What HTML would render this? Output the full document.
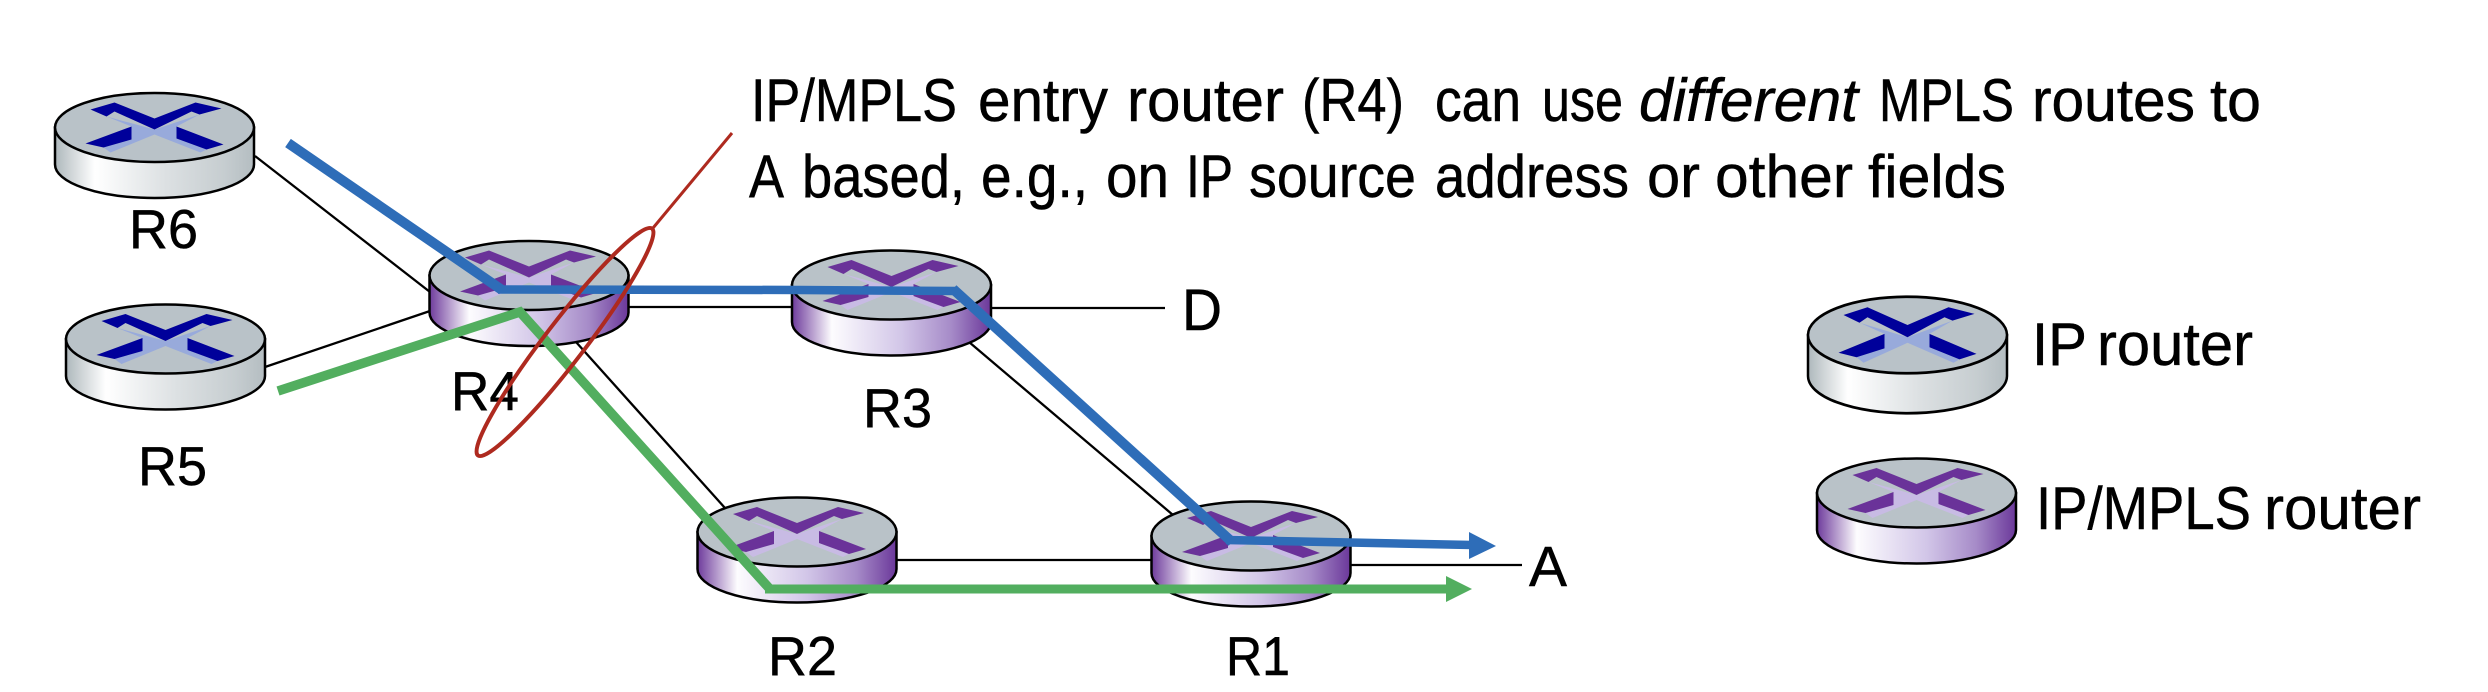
<!DOCTYPE html>
<html><head><meta charset="utf-8"><style>
html,body{margin:0;padding:0;background:#fff}
svg{display:block}
text{font-family:"Liberation Sans",sans-serif;fill:#000;stroke:#000;stroke-width:.5px}
.l{font-size:55px}
.m{font-size:60px}
</style></head><body>
<svg width="2488" height="692" viewBox="0 0 2488 692" xmlns="http://www.w3.org/2000/svg">
<defs>
<linearGradient id="gi" x1="0" x2="1" y1="0" y2="0">
<stop offset="0" stop-color="#aeb8bc"/><stop offset=".2" stop-color="#fff"/><stop offset=".55" stop-color="#dde1e3"/><stop offset=".85" stop-color="#c6cdd0"/><stop offset="1" stop-color="#b4bdc1"/>
</linearGradient>
<linearGradient id="gm" x1="0" x2="1" y1="0" y2="0">
<stop offset="0" stop-color="#6e3b9c"/><stop offset=".2" stop-color="#fdfcfe"/><stop offset=".55" stop-color="#d2c6e8"/><stop offset=".8" stop-color="#a68bc8"/><stop offset="1" stop-color="#6b389a"/>
</linearGradient>
<g id="ip">
<path d="M-99.500,0V37A99.500,33.500 0 0 0 99.500,37V0Z" fill="url(#gi)" stroke="#000" stroke-width="2.500"/>
<ellipse cx="0" cy="0" rx="99.500" ry="34.500" fill="#b9c2c8" stroke="#000" stroke-width="2.500"/>
<path d="M-48,-11L0,2L45,-13L22,-1V11L52,22L46,25L0,7L-44,25L-51,20L-23,12V-1Z" fill="#98aadb"/>
<path d="M-64,-18L-40,-25L0,-9L41,-25L67,-19L45,-13L37,-16L0,2L-40,-16L-48,-11Z" fill="#00009a"/>
<path d="M-69,16L-23,-1V12L-51,20Z" fill="#00009a"/>
<path d="M22,-1L69,17L52,22L22,11Z" fill="#00009a"/>
</g>
<g id="mp">
<path d="M-99.500,0V37A99.500,33.500 0 0 0 99.500,37V0Z" fill="url(#gm)" stroke="#000" stroke-width="2.500"/>
<ellipse cx="0" cy="0" rx="99.500" ry="34.500" fill="#b9c2c8" stroke="#000" stroke-width="2.500"/>
<path d="M-48,-11L0,2L45,-13L22,-1V11L52,22L46,25L0,7L-44,25L-51,20L-23,12V-1Z" fill="#c8bbe4"/>
<path d="M-64,-18L-40,-25L0,-9L41,-25L67,-19L45,-13L37,-16L0,2L-40,-16L-48,-11Z" fill="#6a3299"/>
<path d="M-69,16L-23,-1V12L-51,20Z" fill="#6a3299"/>
<path d="M22,-1L69,17L52,22L22,11Z" fill="#6a3299"/>
</g>
</defs>

<g stroke="#000" stroke-width="2.300" fill="none">
<line x1="255" y1="156" x2="430" y2="292"/>
<line x1="265" y1="367" x2="430" y2="311"/>
<line x1="628" y1="307" x2="792" y2="307"/>
<line x1="991" y1="308" x2="1165" y2="308"/>
<line x1="969" y1="342" x2="1173" y2="515"/>
<line x1="576" y1="342" x2="725" y2="508"/>
<line x1="896" y1="560" x2="1152" y2="560"/>
<line x1="1350" y1="565" x2="1522" y2="565"/>
</g>

<use href="#ip" transform="translate(154.500,127.500)"/>
<use href="#ip" transform="translate(165.500,339)"/>
<use href="#mp" transform="translate(529,275.500)"/>
<use href="#mp" transform="translate(891.500,285)"/>
<use href="#mp" transform="translate(797,532)"/>
<use href="#mp" transform="translate(1251,536)"/>
<use href="#ip" transform="translate(1907.500,335) scale(1,1.110)"/>
<use href="#mp" transform="translate(1916.500,493)"/>

<text class="l" x="129" y="248" textLength="69" lengthAdjust="spacingAndGlyphs">R6</text>
<text class="l" x="138" y="485" textLength="69" lengthAdjust="spacingAndGlyphs">R5</text>
<text class="l" x="451" y="410" textLength="68" lengthAdjust="spacingAndGlyphs">R4</text>
<text class="l" x="863" y="427" textLength="69" lengthAdjust="spacingAndGlyphs">R3</text>
<text class="l" x="1182" y="330" textLength="40" lengthAdjust="spacingAndGlyphs" style="font-size:58px">D</text>
<text class="l" x="768" y="675" textLength="69" lengthAdjust="spacingAndGlyphs">R2</text>
<text class="l" x="1226" y="675" textLength="64" lengthAdjust="spacingAndGlyphs">R1</text>
<text class="l" x="1529" y="586" textLength="38" lengthAdjust="spacingAndGlyphs" style="font-size:57px">A</text>

<text class="m" x="751" y="121" textLength="206" lengthAdjust="spacingAndGlyphs">IP/MPLS</text>
<text class="m" x="978" y="121" textLength="130" lengthAdjust="spacingAndGlyphs">entry</text>
<text class="m" x="1127" y="121" textLength="157" lengthAdjust="spacingAndGlyphs">router</text>
<text class="m" x="1302" y="121" textLength="102" lengthAdjust="spacingAndGlyphs">(R4)</text>
<text class="m" x="1435" y="121" textLength="86" lengthAdjust="spacingAndGlyphs">can</text>
<text class="m" x="1542" y="121" textLength="81" lengthAdjust="spacingAndGlyphs">use</text>
<text class="m" x="1639" y="121" textLength="219" lengthAdjust="spacingAndGlyphs" font-style="italic">different</text>
<text class="m" x="1879" y="121" textLength="135" lengthAdjust="spacingAndGlyphs">MPLS</text>
<text class="m" x="2032" y="121" textLength="163" lengthAdjust="spacingAndGlyphs">routes</text>
<text class="m" x="2210" y="121" textLength="51" lengthAdjust="spacingAndGlyphs">to</text>

<text class="m" x="749" y="197" textLength="35" lengthAdjust="spacingAndGlyphs">A</text>
<text class="m" x="802" y="197" textLength="163" lengthAdjust="spacingAndGlyphs">based,</text>
<text class="m" x="981" y="197" textLength="107" lengthAdjust="spacingAndGlyphs">e.g.,</text>
<text class="m" x="1106" y="197" textLength="63" lengthAdjust="spacingAndGlyphs">on</text>
<text class="m" x="1186" y="197" textLength="47" lengthAdjust="spacingAndGlyphs">IP</text>
<text class="m" x="1249" y="197" textLength="167" lengthAdjust="spacingAndGlyphs">source</text>
<text class="m" x="1435" y="197" textLength="194" lengthAdjust="spacingAndGlyphs">address</text>
<text class="m" x="1647" y="197" textLength="53" lengthAdjust="spacingAndGlyphs">or</text>
<text class="m" x="1715" y="197" textLength="138" lengthAdjust="spacingAndGlyphs">other</text>
<text class="m" x="1868" y="197" textLength="138" lengthAdjust="spacingAndGlyphs">fields</text>

<text class="m" x="2032" y="365" textLength="55" lengthAdjust="spacingAndGlyphs">IP</text>
<text class="m" x="2097" y="365" textLength="156" lengthAdjust="spacingAndGlyphs">router</text>
<text class="m" x="2036" y="529" textLength="215" lengthAdjust="spacingAndGlyphs">IP/MPLS</text>
<text class="m" x="2264" y="529" textLength="157" lengthAdjust="spacingAndGlyphs">router</text>

<polyline points="278,391 520,312 769,588" fill="none" stroke="#52ae5f" stroke-width="9.500"/>
<line x1="765" y1="589" x2="1450" y2="589" stroke="#52ae5f" stroke-width="9"/>
<polygon points="1446,576 1472,589 1446,602" fill="#52ae5f"/>
<polyline points="288,143 502,290" fill="none" stroke="#2e6db8" stroke-width="10"/>
<polyline points="498,289.500 800,290 958,291" fill="none" stroke="#2e6db8" stroke-width="8.500"/>
<line x1="953" y1="289" x2="1232" y2="542" stroke="#2e6db8" stroke-width="10"/>
<line x1="1226" y1="540" x2="1472" y2="545" stroke="#2e6db8" stroke-width="8.500"/>
<polygon points="1469,532 1496,546 1469,559" fill="#2e6db8"/>

<line x1="732" y1="133" x2="653" y2="228" stroke="#ae2a1f" stroke-width="3"/>
<ellipse cx="0" cy="0" rx="143" ry="20" transform="translate(565,342) rotate(-52.500)" fill="none" stroke="#ae2a1f" stroke-width="4"/>
</svg>
</body></html>
